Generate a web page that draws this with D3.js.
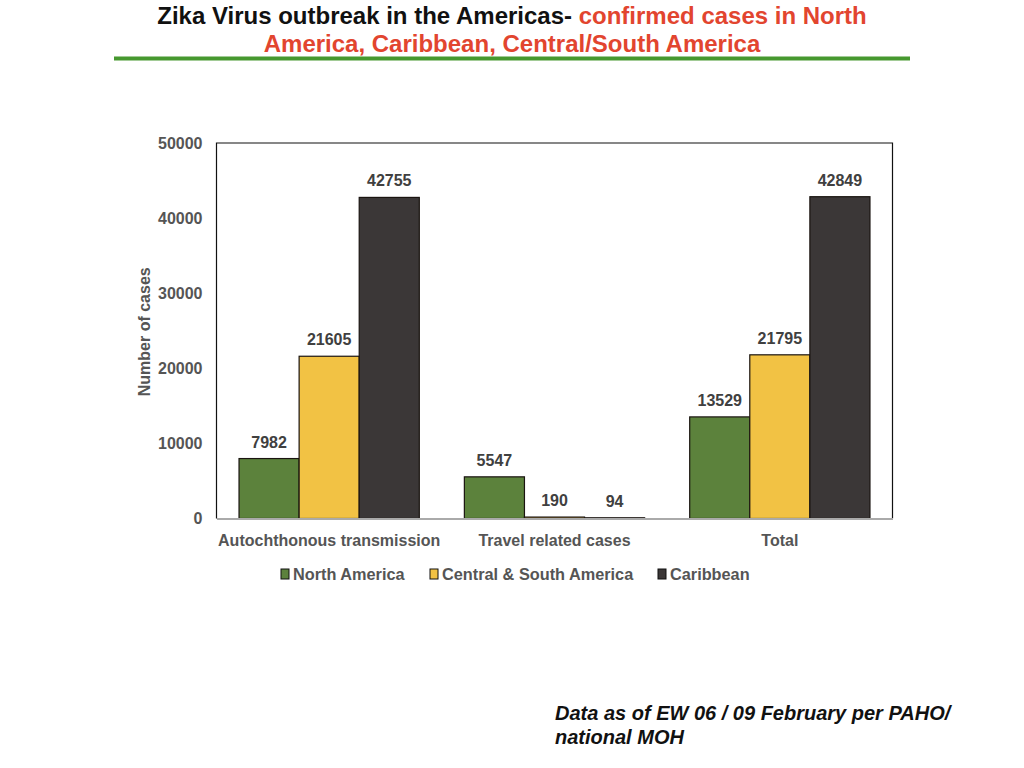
<!DOCTYPE html>
<html>
<head>
<meta charset="utf-8">
<script src="https://cdn.jsdelivr.net/npm/d3@7"></script>
<style>
	body { margin: 0; background: #fff; }
	svg text { font-family: "Liberation Sans", Arial, Helvetica, sans-serif; }
</style>
</head>
<body>
<div id="chart"></div>
<script>
// data
const categories = ["Autochthonous transmission", "Travel related cases", "Total"];
const seriesNames = ["North America", "Central & South America", "Caribbean"];
const northAmerica = [7982, 5547, 13529];
const centralSouthAmerica = [21605, 190, 21795];
const caribbean = [42755, 94, 42849];
const yTicks = [0, 10000, 20000, 30000, 40000, 50000];

const seriesValues = [northAmerica, centralSouthAmerica, caribbean];
const colors = ["#5c823c", "#f2c244", "#3b3737"];

// layout
const plot = {left: 216.5, top: 143, right: 892.5, bottom: 518.5};

const svg = d3.select("#chart")
	.append("svg")
		.attr("width", 1024)
		.attr("height", 768);

// title
const title = svg.append("text")
	.attr("text-anchor", "middle")
	.attr("font-size", "24px")
	.attr("font-weight", "bold");
title.append("tspan")
	.attr("x", 512)
	.attr("y", 24)
	.attr("fill", "#111")
	.text("Zika Virus outbreak in the Americas- ")
	.append("tspan")
		.attr("fill", "#e2452f")
		.text("confirmed cases in North");
title.append("tspan")
	.attr("x", 512)
	.attr("y", 52)
	.attr("fill", "#e2452f")
	.text("America, Caribbean, Central/South America");

svg.append("line")
	.attr("x1", 114)
	.attr("x2", 910)
	.attr("y1", 58.5)
	.attr("y2", 58.5)
	.attr("stroke", "#46982f")
	.attr("stroke-width", 4);

// scales
const x0 = d3.scaleBand()
	.domain(categories)
	.range([plot.left, plot.right])
	.paddingInner(0.2)
	.paddingOuter(0.1);
const x1 = d3.scaleBand()
	.domain(seriesNames)
	.range([0, x0.bandwidth()]);
const y = d3.scaleLinear()
	.domain([0, 50000])
	.range([plot.bottom, plot.top]);

// frame (left, top, right)
svg.append("path")
	.attr("d", `M${plot.left},${plot.bottom}V${plot.top}H${plot.right}V${plot.bottom}`)
	.attr("fill", "none")
	.attr("stroke", "#111")
	.attr("stroke-width", 1.2);

// y axis
const yAxis = svg.append("g")
	.attr("transform", `translate(${plot.left},0)`)
	.call(d3.axisLeft(y).tickValues(yTicks).tickSize(0).tickPadding(14).tickFormat(d3.format("d")));
yAxis.select(".domain").remove();
yAxis.selectAll("text")
	.attr("font-family", "'Liberation Sans', Arial, sans-serif")
	.attr("font-size", "16px")
	.attr("font-weight", "bold")
	.attr("fill", "#555");

svg.append("text")
	.attr("transform", `translate(150,${(plot.top + plot.bottom) / 2 + 1}) rotate(-90)`)
	.attr("text-anchor", "middle")
	.attr("font-size", "16px")
	.attr("font-weight", "bold")
	.attr("fill", "#555")
	.text("Number of cases");

// bars
const rows = [];
categories.forEach((c, i) => {
	seriesNames.forEach((s, j) => {
		rows.push({category: c, series: s, value: seriesValues[j][i], color: colors[j]});
	});
});

svg.selectAll("rect.bar")
	.data(rows)
	.join("rect")
		.attr("class", "bar")
		.attr("x", d => x0(d.category) + x1(d.series))
		.attr("y", d => y(d.value))
		.attr("width", x1.bandwidth())
		.attr("height", d => y(0) - y(d.value))
		.attr("fill", d => d.color)
		.attr("stroke", "#1a1410")
		.attr("stroke-width", 1.2);

// bottom axis
const xAxis = svg.append("g")
	.attr("transform", `translate(0,${plot.bottom})`)
	.call(d3.axisBottom(x0).tickSize(0).tickPadding(16));
xAxis.select(".domain")
	.attr("stroke", "#aaa")
	.attr("stroke-width", 2);
xAxis.selectAll("text")
	.attr("font-family", "'Liberation Sans', Arial, sans-serif")
	.attr("font-size", "16px")
	.attr("font-weight", "bold")
	.attr("fill", "#555");

// value labels
svg.selectAll("text.value")
	.data(rows)
	.join("text")
		.attr("class", "value")
		.attr("x", d => x0(d.category) + x1(d.series) + x1.bandwidth() / 2)
		.attr("y", d => y(d.value) - 11)
		.attr("text-anchor", "middle")
		.attr("font-size", "16px")
		.attr("font-weight", "bold")
		.attr("fill", "#404040")
		.text(d => d.value);

// legend
const legendX = [281, 430, 658];
const legend = svg.selectAll("g.legend")
	.data(seriesNames)
	.join("g")
		.attr("class", "legend")
		.attr("transform", (d, i) => `translate(${legendX[i]},574)`);
legend.append("rect")
	.attr("x", 0)
	.attr("y", -5)
	.attr("width", 8)
	.attr("height", 10)
	.attr("fill", (d, i) => colors[i])
	.attr("stroke", "#111")
	.attr("stroke-width", 1);
legend.append("text")
	.attr("x", 12)
	.attr("y", 6)
	.attr("font-size", "16.3px")
	.attr("font-weight", "bold")
	.attr("fill", "#555")
	.text(d => d);

// footnote
const note = svg.append("text")
	.attr("font-size", "20px")
	.attr("font-weight", "bold")
	.attr("font-style", "italic")
	.attr("fill", "#111");
note.append("tspan")
	.attr("x", 555)
	.attr("y", 720)
	.text("Data as of EW 06 / 09 February per PAHO/");
note.append("tspan")
	.attr("x", 555)
	.attr("y", 744)
	.text("national MOH");
</script>
</body>
</html>
